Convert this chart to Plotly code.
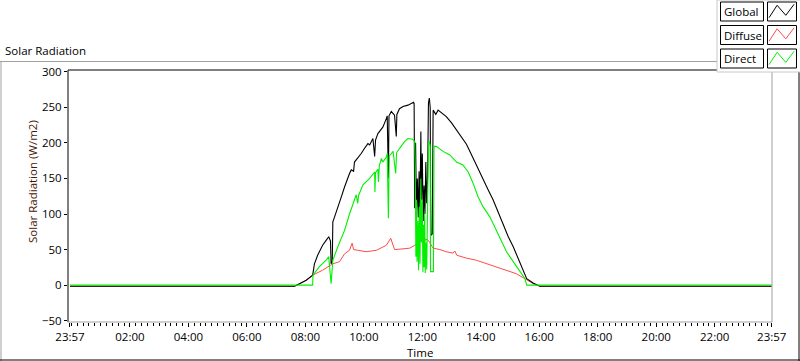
import plotly.graph_objects as go

# ---------------- data (time in decimal hours, value in W/m2) ----------------
t_global = [-0.05, 7.63, 7.80, 8.03, 8.25, 8.31, 8.42, 8.59, 8.71, 8.80, 8.86, 8.88, 8.92, 8.94,
            9.00, 9.11, 9.23, 9.34, 9.45, 9.51, 9.57, 9.65, 9.68, 9.79, 9.91, 10.02, 10.14, 10.20,
            10.31, 10.37, 10.40, 10.48, 10.60, 10.65, 10.77, 10.80, 10.84, 10.86, 10.94, 11.05,
            11.11, 11.13, 11.22, 11.34, 11.51, 11.57, 11.70, 11.72, 11.74, 11.77, 11.80, 11.83,
            11.86, 11.89, 11.92, 11.95, 11.97, 12.00, 12.03, 12.06, 12.09, 12.12, 12.15, 12.18,
            12.21, 12.24, 12.27, 12.29, 12.34, 12.37, 12.46, 12.54, 12.60, 12.82, 13.00, 13.17,
            13.34, 13.51, 13.65, 13.74, 13.91, 14.08, 14.25, 14.42, 14.59, 14.77, 14.94, 15.11,
            15.28, 15.45, 15.57, 15.79, 16.02, 23.95]
v_global = [-1.5, -1.5, 2, 7, 14, 30, 42, 56, 63, 68, 62, 30, 33, 89,
            96, 108, 124, 138, 152, 157, 162, 160, 173, 178, 185, 192, 199, 197,
            206, 181, 204, 213, 220, 222, 234, 238, 150, 238, 244, 239,
            209, 240, 248, 251, 253, 254, 257, 255, 108, 200, 105, 150,
            95, 160, 100, 216, 120, 185, 90, 140, 100, 173, 115, 150,
            256, 263, 250, 70, 72, 246, 240, 246, 244, 237, 228, 218,
            208, 198, 186, 178, 164, 150, 134, 120, 103, 87, 68, 54,
            38, 21, 9, 3, -1.5, -1.5]

t_diffuse = [-0.05, 7.63, 7.80, 8.03, 8.25, 8.48, 8.59, 8.94, 9.17, 9.34, 9.51, 9.60, 9.65, 9.79,
             10.08, 10.43, 10.77, 10.92, 11.05, 11.34, 11.57, 11.74, 11.91, 11.97, 12.05, 12.10,
             12.20, 12.25, 12.37, 12.60, 12.82, 13.05, 13.11, 13.18, 13.51, 13.85, 14.20, 14.54,
             14.88, 15.22, 15.51, 15.79, 16.02, 23.95]
v_diffuse = [-1.5, -1.5, 2, 7, 14, 19, 21, 30, 33, 44, 49, 59, 50, 49,
             47, 49, 56, 66, 50, 51, 52, 56, 61, 68, 55, 65,
             63, 60, 52, 50, 47, 45, 48, 42, 38, 35, 30, 26,
             21, 16, 9, 2, -1.5, -1.5]

t_direct = [-0.05, 8.25, 8.26, 8.48, 8.71, 8.80, 8.88, 8.94, 9.11, 9.34, 9.51, 9.62, 9.74, 9.79,
            9.82, 9.97, 10.08, 10.20, 10.37, 10.38, 10.40, 10.48, 10.50, 10.53, 10.60, 10.65,
            10.77, 10.80, 10.84, 10.87, 10.94, 11.00, 11.09, 11.12, 11.22, 11.40, 11.51, 11.57,
            11.67, 11.74, 11.76, 11.78, 11.80, 11.82, 11.85, 11.87, 11.90, 11.92, 11.95, 11.97,
            12.00, 12.02, 12.04, 12.06, 12.08, 12.10, 12.13, 12.15, 12.18, 12.21, 12.24, 12.27,
            12.28, 12.38, 12.40, 12.48, 12.71, 12.94, 13.17, 13.39, 13.57, 13.74, 13.91, 14.08,
            14.31, 14.54, 14.71, 14.88, 15.11, 15.34, 15.51, 15.57, 23.95]
v_direct = [0, 0, 14, 26, 35, 40, 2, 35, 54, 77, 100, 113, 127, 115,
            126, 141, 145, 150, 159, 131, 158, 163, 145, 168, 178, 173,
            180, 185, 94, 182, 185, 188, 157, 186, 192, 202, 206, 206,
            205, 202, 162, 40, 120, 33, 90, 21, 110, 30, 150, 60,
            120, 18, 85, 25, 100, 17, 60, 22, 95, 200, 202, 195,
            19, 19, 195, 195, 188, 183, 173, 169, 159, 143, 124, 110,
            96, 77, 61, 47, 33, 19, 9, 0, 0]

y_ticks = [-50, 0, 50, 100, 150, 200, 250, 300]
x_tickvals = [-0.05, 2, 4, 6, 8, 10, 12, 14, 16, 18, 20, 22, 23.95]
x_ticktext = ["23:57", "02:00", "04:00", "06:00", "08:00", "10:00", "12:00",
              "14:00", "16:00", "18:00", "20:00", "22:00", "23:57"]
series_names = ["Global", "Diffuse", "Direct"]
series_colors = ["#000000", "#ff4a4a", "#00f000"]

# ---------------- layout helpers (pixel -> paper) ----------------
W, H = 800, 361
L, R, T, B = 68, 772, 70, 322
def px(x):
    return (x - L) / (R - L)
def py(y):
    return (B - y) / (B - T)

FONT = "Open Sans"
FS = 11.5

fig = go.Figure()
fig.add_trace(go.Scatter(x=t_diffuse, y=v_diffuse, mode="lines", name="Diffuse",
                         line=dict(color=series_colors[1], width=1), showlegend=False))
fig.add_trace(go.Scatter(x=t_global, y=v_global, mode="lines", name="Global",
                         line=dict(color=series_colors[0], width=1.1), showlegend=False))
fig.add_trace(go.Scatter(x=t_direct, y=v_direct, mode="lines", name="Direct",
                         line=dict(color=series_colors[2], width=1.1), showlegend=False))

shapes = []
def hline(x0, x1, y, color, w=1):
    shapes.append(dict(type="line", xref="paper", yref="paper", x0=px(x0), x1=px(x1),
                       y0=py(y), y1=py(y), line=dict(color=color, width=w), layer="above"))
def vline(x, y0, y1, color, w=1):
    shapes.append(dict(type="line", xref="paper", yref="paper", x0=px(x), x1=px(x),
                       y0=py(y0), y1=py(y1), line=dict(color=color, width=w), layer="above"))

# outer panel frame
hline(0, 717, 61.5, "#a0a0a0")
vline(1, 61.5, 361, "#a0a0a0")
hline(0, 800, 360, "#000000")
vline(799, 72, 361, "#000000")
# plot area frame
hline(68, 772, 70, "#000000")
vline(68, 70, 322, "#000000")
hline(68, 772, 322, "#a0a0a0")
vline(772, 70, 322, "#a0a0a0")

# legend panel
shapes.append(dict(type="rect", xref="paper", yref="paper", x0=px(717), x1=px(801),
                   y0=py(0), y1=py(72), fillcolor="#ffffff",
                   line=dict(color="#c8c8c8", width=1), layer="above"))
annotations = []
row_tops = [2, 25.5, 49]
zig = [(1.6, 15.6), (9.6, 3.3), (18.3, 13.3), (26.6, 2.3)]
for name, col, top in zip(series_names, series_colors, row_tops):
    shapes.append(dict(type="rect", xref="paper", yref="paper", x0=px(720.5), x1=px(763.5),
                       y0=py(top), y1=py(top + 19), fillcolor="#ffffff",
                       line=dict(color="#000000", width=1), layer="above"))
    shapes.append(dict(type="rect", xref="paper", yref="paper", x0=px(767.5), x1=px(796.5),
                       y0=py(top), y1=py(top + 19), fillcolor="#ffffff",
                       line=dict(color="#000000", width=1), layer="above"))
    path = "M " + " L ".join(f"{px(767.5 + dx)},{py(top + dy)}" for dx, dy in zig)
    shapes.append(dict(type="path", xref="paper", yref="paper", path=path,
                       line=dict(color=col, width=1), layer="above"))
    annotations.append(dict(text=name, xref="paper", yref="paper", x=px(722), y=py(top + 9.5),
                            xanchor="left", yanchor="middle", showarrow=False,
                            font=dict(family=FONT, size=FS, color="#000000")))

annotations.append(dict(text="Solar Radiation", xref="paper", yref="paper", x=px(3), y=py(50),
                        xanchor="left", yanchor="middle", showarrow=False,
                        font=dict(family=FONT, size=FS, color="#000000")))
annotations.append(dict(text="Solar Radiation (W/m2)", xref="paper", yref="paper", x=px(32),
                        y=py(182), xanchor="center", yanchor="middle", textangle=-90,
                        showarrow=False, font=dict(family=FONT, size=FS, color="#4a1808")))
annotations.append(dict(text="Time", xref="paper", yref="paper", x=px(420), y=py(352),
                        xanchor="center", yanchor="middle", showarrow=False,
                        font=dict(family=FONT, size=FS, color="#000000")))

fig.update_layout(
    width=W, height=H, autosize=False,
    margin=dict(l=L, r=W - R, t=T, b=H - B, pad=0),
    paper_bgcolor="#ffffff", plot_bgcolor="#ffffff",
    shapes=shapes, annotations=annotations,
    xaxis=dict(range=[-0.118, 23.96], tickmode="array", tickvals=x_tickvals, ticktext=x_ticktext,
               ticks="outside", ticklen=4, tickcolor="#000000", showgrid=False, zeroline=False,
               showline=False, tickfont=dict(family=FONT, size=FS, color="#000000"),
               minor=dict(tickmode="linear", tick0=0, dtick=0.2, ticks="outside", ticklen=3,
                          tickcolor="#000000", showgrid=False)),
    yaxis=dict(range=[-51.8, 302.4], tickmode="array", tickvals=y_ticks,
               ticks="outside", ticklen=3, tickcolor="#000000", showgrid=False, zeroline=False,
               showline=False, tickfont=dict(family=FONT, size=FS, color="#000000")),
)

fig.write_html("out.html", config={"displayModeBar": False},
               post_script="document.body.style.margin='0';document.body.style.overflow='hidden';")
